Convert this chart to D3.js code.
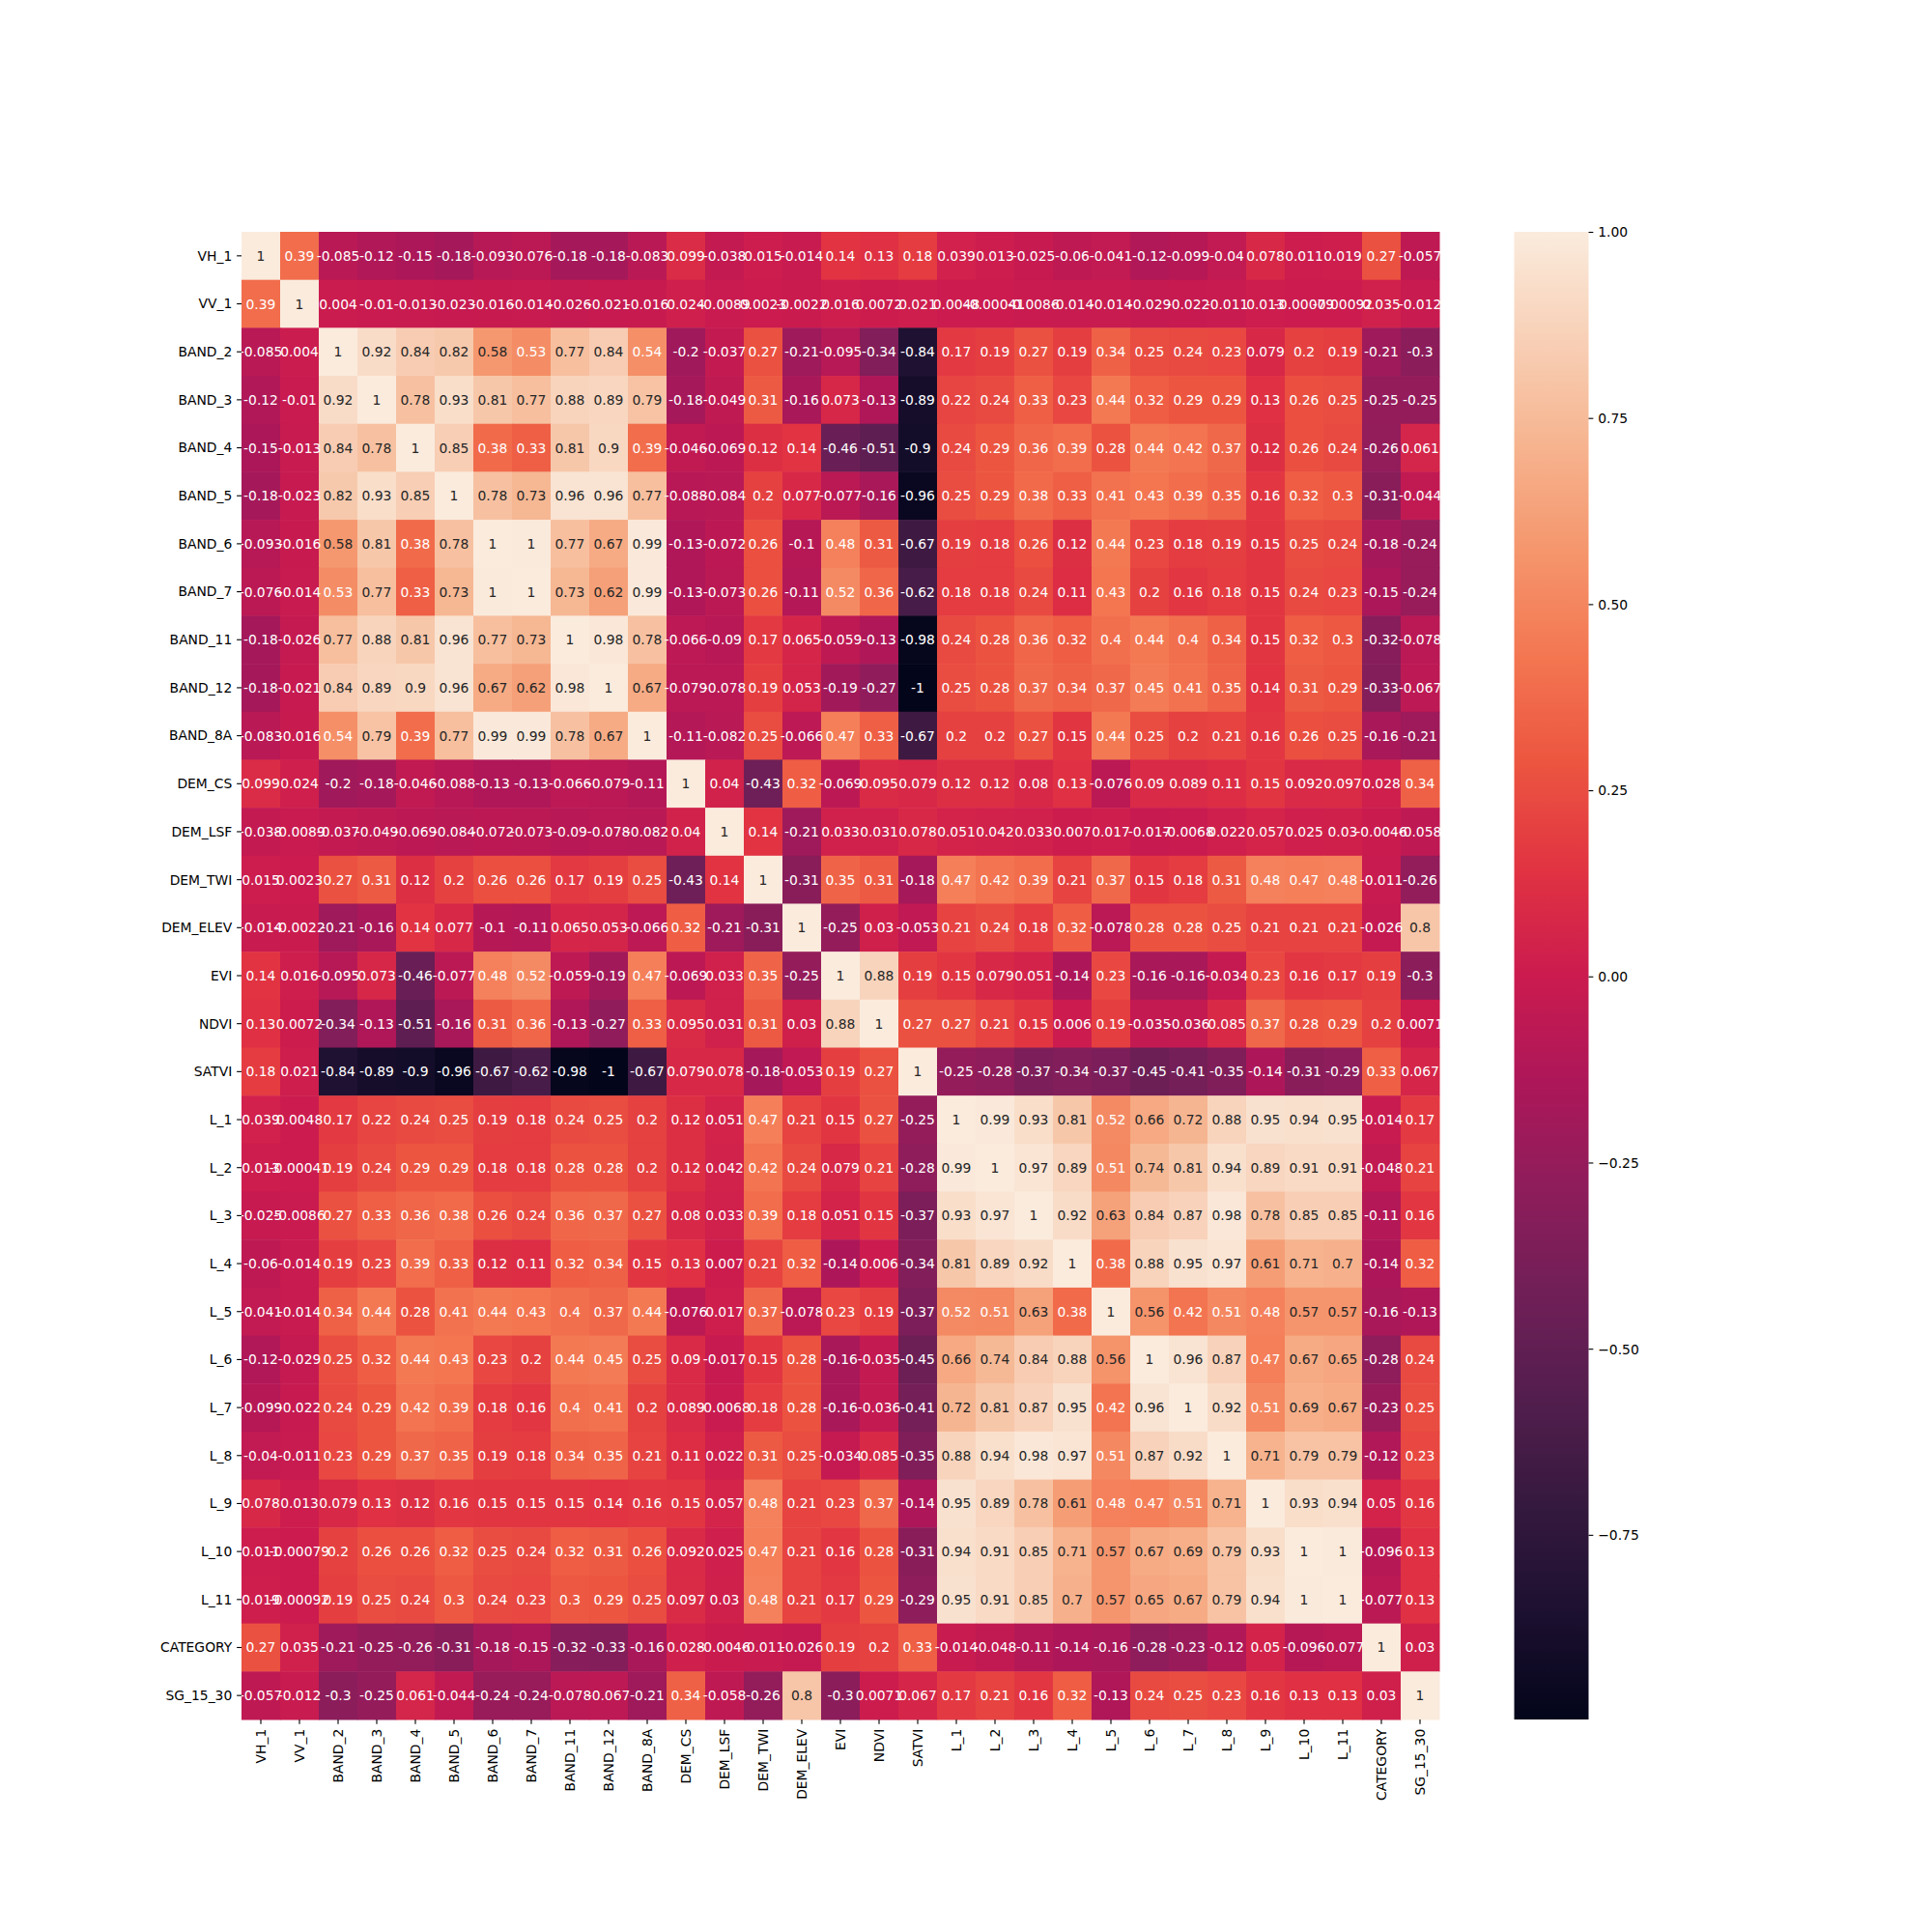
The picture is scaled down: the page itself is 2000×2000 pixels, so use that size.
<!DOCTYPE html>
<html><head><meta charset="utf-8">
<script src="https://d3js.org/d3.v7.min.js"></script>
<style>body{margin:0;background:#fff} text{font-family:"DejaVu Sans",sans-serif}</style>
</head><body>
<svg id="c" width="2000" height="2000"></svg>
<script>
const labels = ["VH_1","VV_1","BAND_2","BAND_3","BAND_4","BAND_5","BAND_6","BAND_7","BAND_11","BAND_12","BAND_8A","DEM_CS","DEM_LSF","DEM_TWI","DEM_ELEV","EVI","NDVI","SATVI","L_1","L_2","L_3","L_4","L_5","L_6","L_7","L_8","L_9","L_10","L_11","CATEGORY","SG_15_30"];

const corr = [
[1,0.39,-0.085,-0.12,-0.15,-0.18,-0.093,-0.076,-0.18,-0.18,-0.083,0.099,-0.038,0.015,-0.014,0.14,0.13,0.18,0.039,0.013,-0.025,-0.06,-0.041,-0.12,-0.099,-0.04,0.078,0.011,0.019,0.27,-0.057],
[0.39,1,0.004,-0.01,-0.013,-0.023,-0.016,-0.014,-0.026,-0.021,-0.016,0.024,-0.0089,0.0023,-0.0022,0.016,0.0072,0.021,0.0048,-0.00041,-0.0086,-0.014,-0.014,-0.029,-0.022,-0.011,0.013,-0.00079,-0.00092,0.035,-0.012],
[-0.085,0.004,1,0.92,0.84,0.82,0.58,0.53,0.77,0.84,0.54,-0.2,-0.037,0.27,-0.21,-0.095,-0.34,-0.84,0.17,0.19,0.27,0.19,0.34,0.25,0.24,0.23,0.079,0.2,0.19,-0.21,-0.3],
[-0.12,-0.01,0.92,1,0.78,0.93,0.81,0.77,0.88,0.89,0.79,-0.18,-0.049,0.31,-0.16,0.073,-0.13,-0.89,0.22,0.24,0.33,0.23,0.44,0.32,0.29,0.29,0.13,0.26,0.25,-0.25,-0.25],
[-0.15,-0.013,0.84,0.78,1,0.85,0.38,0.33,0.81,0.9,0.39,-0.046,-0.069,0.12,0.14,-0.46,-0.51,-0.9,0.24,0.29,0.36,0.39,0.28,0.44,0.42,0.37,0.12,0.26,0.24,-0.26,0.061],
[-0.18,-0.023,0.82,0.93,0.85,1,0.78,0.73,0.96,0.96,0.77,-0.088,-0.084,0.2,0.077,-0.077,-0.16,-0.96,0.25,0.29,0.38,0.33,0.41,0.43,0.39,0.35,0.16,0.32,0.3,-0.31,-0.044],
[-0.093,-0.016,0.58,0.81,0.38,0.78,1,0.997,0.77,0.67,0.99,-0.13,-0.072,0.26,-0.1,0.48,0.31,-0.67,0.19,0.18,0.26,0.12,0.44,0.23,0.18,0.19,0.15,0.25,0.24,-0.18,-0.24],
[-0.076,-0.014,0.53,0.77,0.33,0.73,0.997,1,0.73,0.62,0.99,-0.13,-0.073,0.26,-0.11,0.52,0.36,-0.62,0.18,0.18,0.24,0.11,0.43,0.2,0.16,0.18,0.15,0.24,0.23,-0.15,-0.24],
[-0.18,-0.026,0.77,0.88,0.81,0.96,0.77,0.73,1,0.98,0.78,-0.066,-0.09,0.17,0.065,-0.059,-0.13,-0.98,0.24,0.28,0.36,0.32,0.4,0.44,0.4,0.34,0.15,0.32,0.3,-0.32,-0.078],
[-0.18,-0.021,0.84,0.89,0.9,0.96,0.67,0.62,0.98,1,0.67,-0.079,-0.078,0.19,0.053,-0.19,-0.27,-0.998,0.25,0.28,0.37,0.34,0.37,0.45,0.41,0.35,0.14,0.31,0.29,-0.33,-0.067],
[-0.083,-0.016,0.54,0.79,0.39,0.77,0.99,0.99,0.78,0.67,1,-0.11,-0.082,0.25,-0.066,0.47,0.33,-0.67,0.2,0.2,0.27,0.15,0.44,0.25,0.2,0.21,0.16,0.26,0.25,-0.16,-0.21],
[0.099,0.024,-0.2,-0.18,-0.046,-0.088,-0.13,-0.13,-0.066,-0.079,-0.11,1,0.04,-0.43,0.32,-0.069,0.095,0.079,0.12,0.12,0.08,0.13,-0.076,0.09,0.089,0.11,0.15,0.092,0.097,0.028,0.34],
[-0.038,-0.0089,-0.037,-0.049,-0.069,-0.084,-0.072,-0.073,-0.09,-0.078,-0.082,0.04,1,0.14,-0.21,0.033,0.031,0.078,0.051,0.042,0.033,0.007,0.017,-0.017,-0.0068,0.022,0.057,0.025,0.03,-0.0046,-0.058],
[0.015,0.0023,0.27,0.31,0.12,0.2,0.26,0.26,0.17,0.19,0.25,-0.43,0.14,1,-0.31,0.35,0.31,-0.18,0.47,0.42,0.39,0.21,0.37,0.15,0.18,0.31,0.48,0.47,0.48,-0.011,-0.26],
[-0.014,-0.0022,-0.21,-0.16,0.14,0.077,-0.1,-0.11,0.065,0.053,-0.066,0.32,-0.21,-0.31,1,-0.25,0.03,-0.053,0.21,0.24,0.18,0.32,-0.078,0.28,0.28,0.25,0.21,0.21,0.21,-0.026,0.8],
[0.14,0.016,-0.095,0.073,-0.46,-0.077,0.48,0.52,-0.059,-0.19,0.47,-0.069,0.033,0.35,-0.25,1,0.88,0.19,0.15,0.079,0.051,-0.14,0.23,-0.16,-0.16,-0.034,0.23,0.16,0.17,0.19,-0.3],
[0.13,0.0072,-0.34,-0.13,-0.51,-0.16,0.31,0.36,-0.13,-0.27,0.33,0.095,0.031,0.31,0.03,0.88,1,0.27,0.27,0.21,0.15,0.006,0.19,-0.035,-0.036,0.085,0.37,0.28,0.29,0.2,0.0071],
[0.18,0.021,-0.84,-0.89,-0.9,-0.96,-0.67,-0.62,-0.98,-0.998,-0.67,0.079,0.078,-0.18,-0.053,0.19,0.27,1,-0.25,-0.28,-0.37,-0.34,-0.37,-0.45,-0.41,-0.35,-0.14,-0.31,-0.29,0.33,0.067],
[0.039,0.0048,0.17,0.22,0.24,0.25,0.19,0.18,0.24,0.25,0.2,0.12,0.051,0.47,0.21,0.15,0.27,-0.25,1,0.99,0.93,0.81,0.52,0.66,0.72,0.88,0.95,0.94,0.95,-0.014,0.17],
[0.013,-0.00041,0.19,0.24,0.29,0.29,0.18,0.18,0.28,0.28,0.2,0.12,0.042,0.42,0.24,0.079,0.21,-0.28,0.99,1,0.97,0.89,0.51,0.74,0.81,0.94,0.89,0.91,0.91,-0.048,0.21],
[-0.025,-0.0086,0.27,0.33,0.36,0.38,0.26,0.24,0.36,0.37,0.27,0.08,0.033,0.39,0.18,0.051,0.15,-0.37,0.93,0.97,1,0.92,0.63,0.84,0.87,0.98,0.78,0.85,0.85,-0.11,0.16],
[-0.06,-0.014,0.19,0.23,0.39,0.33,0.12,0.11,0.32,0.34,0.15,0.13,0.007,0.21,0.32,-0.14,0.006,-0.34,0.81,0.89,0.92,1,0.38,0.88,0.95,0.97,0.61,0.71,0.7,-0.14,0.32],
[-0.041,-0.014,0.34,0.44,0.28,0.41,0.44,0.43,0.4,0.37,0.44,-0.076,0.017,0.37,-0.078,0.23,0.19,-0.37,0.52,0.51,0.63,0.38,1,0.56,0.42,0.51,0.48,0.57,0.57,-0.16,-0.13],
[-0.12,-0.029,0.25,0.32,0.44,0.43,0.23,0.2,0.44,0.45,0.25,0.09,-0.017,0.15,0.28,-0.16,-0.035,-0.45,0.66,0.74,0.84,0.88,0.56,1,0.96,0.87,0.47,0.67,0.65,-0.28,0.24],
[-0.099,-0.022,0.24,0.29,0.42,0.39,0.18,0.16,0.4,0.41,0.2,0.089,-0.0068,0.18,0.28,-0.16,-0.036,-0.41,0.72,0.81,0.87,0.95,0.42,0.96,1,0.92,0.51,0.69,0.67,-0.23,0.25],
[-0.04,-0.011,0.23,0.29,0.37,0.35,0.19,0.18,0.34,0.35,0.21,0.11,0.022,0.31,0.25,-0.034,0.085,-0.35,0.88,0.94,0.98,0.97,0.51,0.87,0.92,1,0.71,0.79,0.79,-0.12,0.23],
[0.078,0.013,0.079,0.13,0.12,0.16,0.15,0.15,0.15,0.14,0.16,0.15,0.057,0.48,0.21,0.23,0.37,-0.14,0.95,0.89,0.78,0.61,0.48,0.47,0.51,0.71,1,0.93,0.94,0.05,0.16],
[0.011,-0.00079,0.2,0.26,0.26,0.32,0.25,0.24,0.32,0.31,0.26,0.092,0.025,0.47,0.21,0.16,0.28,-0.31,0.94,0.91,0.85,0.71,0.57,0.67,0.69,0.79,0.93,1,0.996,-0.096,0.13],
[0.019,-0.00092,0.19,0.25,0.24,0.3,0.24,0.23,0.3,0.29,0.25,0.097,0.03,0.48,0.21,0.17,0.29,-0.29,0.95,0.91,0.85,0.7,0.57,0.65,0.67,0.79,0.94,0.996,1,-0.077,0.13],
[0.27,0.035,-0.21,-0.25,-0.26,-0.31,-0.18,-0.15,-0.32,-0.33,-0.16,0.028,-0.0046,-0.011,-0.026,0.19,0.2,0.33,-0.014,-0.048,-0.11,-0.14,-0.16,-0.28,-0.23,-0.12,0.05,-0.096,-0.077,1,0.03],
[-0.057,-0.012,-0.3,-0.25,0.061,-0.044,-0.24,-0.24,-0.078,-0.067,-0.21,0.34,-0.058,-0.26,0.8,-0.3,0.0071,0.067,0.17,0.21,0.16,0.32,-0.13,0.24,0.25,0.23,0.16,0.13,0.13,0.03,1]
];

const cbTicks = [-0.75,-0.5,-0.25,0,0.25,0.5,0.75,1];

// rocket colormap control colours (position 0..1)
const rocketPos = [0,0.071,0.143,0.214,0.286,0.357,0.429,0.5,0.571,0.643,0.714,0.786,0.857,0.929,1];
const rocketCol = ["#03051a","#1c1030","#35193e","#521e4d","#701f57","#8e1d5b","#ad1759","#cb1b4f","#e13342","#ec5540","#f37651","#f5966d","#f6b48f","#f8d0b7","#faebdd"];

const svg = d3.select("#c");
svg.append("rect").attr("width",2000).attr("height",2000).attr("fill","#fff");

const L=250, R=1490, T=240, B=1780;
const FS = 13.89, TICK = 4.86, PAD = 4.86;

const vmin = d3.min(corr.flat()), vmax = d3.max(corr.flat());
const cmap = d3.scaleLinear().domain([0,1]).range([0,1]);
const rocket = d3.scaleLinear().domain(rocketPos).range(rocketCol).interpolate(d3.interpolateRgb).clamp(true);
const color = v => rocket((v - vmin)/(vmax - vmin));

const x = d3.scaleBand().domain(labels).range([L,R]);
const y = d3.scaleBand().domain(labels).range([T,B]);

function lum(c){
  const r = d3.rgb(c);
  const f = v => { v/=255; return v<=0.03928 ? v/12.92 : Math.pow((v+0.055)/1.055,2.4); };
  return 0.2126*f(r.r)+0.7152*f(r.g)+0.0722*f(r.b);
}

const fmt = d3.formatLocale({decimal:".",thousands:",",grouping:[3],currency:["",""],minus:"-"}).format(".2~g");

const cells = [];
corr.forEach((row,i)=>row.forEach((v,j)=>cells.push({r:labels[i],c:labels[j],v})));

const g = svg.append("g");
g.selectAll("rect.cell").data(cells).join("rect")
  .attr("x",d=>x(d.c)).attr("y",d=>y(d.r))
  .attr("width",x.bandwidth()+0.5).attr("height",y.bandwidth()+0.5)
  .attr("fill",d=>color(d.v));

g.selectAll("text.ann").data(cells).join("text")
  .attr("x",d=>x(d.c)+x.bandwidth()/2).attr("y",d=>y(d.r)+y.bandwidth()/2)
  .attr("dy","0.36em").attr("text-anchor","middle")
  .attr("font-size",FS)
  .attr("fill",d=>lum(color(d.v))>0.408 ? "#262626" : "#ffffff")
  .text(d=>fmt(d.v));

// axes
const xa = svg.append("g").attr("transform",`translate(0,${B})`)
  .call(d3.axisBottom(x).tickSize(TICK).tickPadding(PAD));
xa.select(".domain").remove();
xa.selectAll("line").attr("stroke","#000").attr("stroke-width",1.11);
xa.selectAll("text").attr("font-size",FS).attr("fill","#000")
  .attr("transform","rotate(-90)").attr("text-anchor","end")
  .attr("x",-(TICK+PAD)).attr("y",0).attr("dy","0.35em");

const ya = svg.append("g").attr("transform",`translate(${L},0)`)
  .call(d3.axisLeft(y).tickSize(TICK).tickPadding(PAD));
ya.select(".domain").remove();
ya.selectAll("line").attr("stroke","#000").attr("stroke-width",1.11);
ya.selectAll("text").attr("font-size",FS).attr("fill","#000").attr("dy","0.35em");

// colorbar
const cbX = 1567.5, cbW = 77;
const cbScale = d3.scaleLinear().domain([vmin,vmax]).range([B,T]);
const defs = svg.append("defs");
const grad = defs.append("linearGradient").attr("id","cbg").attr("x1",0).attr("y1",1).attr("x2",0).attr("y2",0);
d3.range(0,257).forEach(k=>{
  const t = k/256;
  grad.append("stop").attr("offset",t).attr("stop-color",rocket(t));
});
svg.append("rect").attr("x",cbX).attr("y",T).attr("width",cbW).attr("height",B-T).attr("fill","url(#cbg)");
const ca = svg.append("g").attr("transform",`translate(${cbX+cbW},0)`)
  .call(d3.axisRight(cbScale).tickValues(cbTicks).tickFormat(d3.format(".2f")).tickSize(TICK).tickPadding(PAD));
ca.select(".domain").remove();
ca.selectAll("line").attr("stroke","#000").attr("stroke-width",1.11);
ca.selectAll("text").attr("font-size",FS).attr("fill","#000").attr("dy","0.35em");
</script>
</body></html>
